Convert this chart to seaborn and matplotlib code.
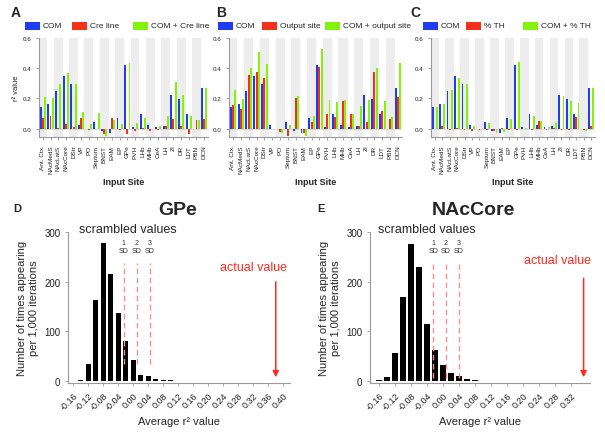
import numpy as np
import pandas as pd
import matplotlib
matplotlib.use('Agg')
import matplotlib.pyplot as plt
import seaborn as sns
from matplotlib.patches import Rectangle

# ---- data ----
sites = ['Ant. Ctx.', 'NAcMedS', 'NAcLatS', 'NAcCore', 'DStr', 'VP', 'PO', 'Septum',
         'BNST', 'EAM', 'EP', 'GPe', 'PVH', 'LHb', 'MHb', 'CeA', 'LH', 'ZI', 'DR',
         'LDT', 'PBN', 'DCN']

com = [0.145, 0.165, 0.247, 0.348, 0.298, 0.024, -0.005, 0.046, -0.015, -0.026, 0.072,
       0.422, 0.013, 0.096, 0.024, 0.013, 0.020, 0.223, 0.197, 0.094, -0.005, 0.267]
cre_line = [0.068, 0.081, 0.002, 0.033, 0.011, 0.068, -0.008, -0.005, -0.037, 0.074, -0.008,
            -0.037, -0.012, 0.002, -0.013, -0.010, 0.020, 0.066, 0.017, -0.033, 0.055, 0.063]
com_cre = [0.212, 0.205, 0.298, 0.370, 0.295, 0.112, 0.028, 0.107, -0.046, 0.057, 0.033,
           0.433, 0.039, 0.072, -0.004, 0.017, 0.081, 0.308, 0.225, 0.081, 0.059, 0.267]
output_site = [0.159, 0.133, 0.356, 0.375, 0.334, -0.004, -0.020, -0.046, 0.203, -0.028, 0.044,
               0.410, 0.094, 0.077, 0.186, 0.100, 0.015, 0.044, 0.373, 0.120, 0.065, 0.210]
com_output = [0.256, 0.199, 0.402, 0.505, 0.428, -0.003, -0.028, 0.022, 0.216, -0.046, 0.085,
              0.528, 0.192, 0.179, 0.192, 0.100, 0.150, 0.188, 0.400, 0.183, 0.079, 0.433]
pct_th = [-0.002, 0.020, -0.008, 0.002, -0.008, -0.012, -0.008, -0.010, -0.012, 0.004, -0.008,
          -0.008, -0.004, -0.008, 0.050, -0.010, 0.002, -0.008, -0.006, 0.078, -0.008, 0.018]
com_th = [0.144, 0.162, 0.253, 0.336, 0.297, 0.015, -0.008, 0.035, -0.026, -0.024, 0.061,
          0.441, 0.002, 0.083, 0.050, 0.009, 0.035, 0.214, 0.186, 0.172, -0.012, 0.268]

gpe_bins = [-0.14, -0.12, -0.10, -0.08, -0.06, -0.04, -0.02, 0.00, 0.02, 0.04, 0.06, 0.08, 0.10]
gpe_counts = [1, 33, 162, 277, 215, 137, 80, 41, 11, 9, 3, 2, 1]
gpe_sd = [-0.025, 0.009, 0.044]
gpe_actual = 0.38
gpe_ticks = [-0.16, -0.12, -0.08, -0.04, 0.00, 0.04, 0.08, 0.12, 0.16, 0.20, 0.24, 0.28, 0.32, 0.36, 0.40]

nac_bins = [-0.16, -0.14, -0.12, -0.10, -0.08, -0.06, -0.04, -0.02, 0.00, 0.02, 0.04, 0.06, 0.08]
nac_counts = [2, 7, 55, 168, 276, 230, 115, 61, 32, 15, 9, 4, 1]
nac_sd = [-0.024, 0.008, 0.040]
nac_actual = 0.352
nac_ticks = [-0.16, -0.12, -0.08, -0.04, 0.00, 0.04, 0.08, 0.12, 0.16, 0.20, 0.24, 0.28, 0.32]

BLUE, RED, GREEN = '#1f3cf2', '#f5301a', '#84f20a'
SPINE = '#9a9a9a'

sns.set_theme(style='ticks')
plt.rcParams['font.family'] = ['Liberation Sans', 'DejaVu Sans']

W, H = 605, 435
fig = plt.figure(figsize=(W / 100, H / 100), dpi=100)


def px(x0, y0, x1, y1):
    # pixel box -> figure rect
    return [x0 / W, 1 - y1 / H, (x1 - x0) / W, (y1 - y0) / H]


def style_axes(ax):
    sns.despine(ax=ax)
    for s in ['left', 'bottom']:
        ax.spines[s].set_color(SPINE)
        ax.spines[s].set_linewidth(0.8)
    ax.tick_params(colors='#222222', length=2, width=0.6)
    ax.tick_params(axis='both', color=SPINE)


def bar_panel(box, vals, names, letter, letter_xy, legend_items, ylabel):
    ax = fig.add_axes(px(*box))
    df = pd.DataFrame({
        'site': sites * 3,
        'model': [n for n in names for _ in sites],
        'r2': list(vals[0]) + list(vals[1]) + list(vals[2]),
    })
    for i in range(0, len(sites), 2):
        ax.axvspan(i - 0.58, i + 0.58, color='#ededed', zorder=0, lw=0)
    sns.barplot(data=df, x='site', y='r2', hue='model', palette=[BLUE, RED, GREEN],
                errorbar=None, width=0.84, gap=0.1, saturation=1, legend=False,
                edgecolor='none', linewidth=0, ax=ax, zorder=2)
    ax.axhline(0, color='#cfcfcf', lw=0.5, zorder=1)
    ax.set_xlim(-0.5, len(sites) - 0.5)
    ax.set_ylim(-0.055, 0.6)
    ax.set_yticks([0.0, 0.2, 0.4, 0.6])
    ax.set_yticklabels(['0.0', '0.2', '0.4', '0.6'], fontsize=4.5)
    ax.set_xticks(range(len(sites)))
    ax.set_xticklabels(sites, rotation=90, fontsize=4.6)
    style_axes(ax)
    ax.set_xlabel('Input Site', fontsize=6.5, fontweight='bold', labelpad=3)
    ax.set_ylabel(ylabel, fontsize=5.5, labelpad=2)
    fig.text(letter_xy[0] / W, 1 - letter_xy[1] / H, letter, fontsize=10,
             fontweight='bold', va='center')
    for x0, label, color in legend_items:
        fig.add_artist(Rectangle((x0 / W, 1 - 31 / H), 15 / W, 8 / H,
                                 transform=fig.transFigure, color=color, lw=0))
        fig.text((x0 + 18) / W, 1 - 27 / H, label, fontsize=6.0, va='center')
    return ax


axA = bar_panel((39, 39, 208, 138), (com, cre_line, com_cre),
                ['COM', 'Cre line', 'COM + Cre line'], 'A', (11, 13),
                [(25, 'COM', BLUE), (72, 'Cre line', RED), (133, 'COM + Cre line', GREEN)],
                'r² value')
axB = bar_panel((229, 39, 402, 138), (com, output_site, com_output),
                ['COM', 'Output site', 'COM + output site'], 'B', (216, 13),
                [(218, 'COM', BLUE), (262, 'Output site', RED), (325, 'COM + output site', GREEN)],
                '')
axC = bar_panel((431, 39, 595, 138), (com, pct_th, com_th),
                ['COM', '% TH', 'COM + % TH'], 'C', (410, 13),
                [(423, 'COM', BLUE), (466, '% TH', RED), (523, 'COM + % TH', GREEN)],
                '')


def hist_panel(box, bins, counts, sd, actual, ticks, xlim, title, title_x, letter,
               letter_x, scram_x, act_x, act_y, arrow_top, sd_bottom):
    ax = fig.add_axes(px(*box))
    hist_df = pd.DataFrame({'r2': bins, 'n': counts})
    sns.histplot(data=hist_df, x='r2', weights='n', binwidth=0.02,
                 binrange=(bins[0] - 0.01, bins[-1] + 0.01), color='black',
                 edgecolor='none', alpha=1, shrink=0.68, ax=ax)
    ax.set_xlim(*xlim)
    ax.set_ylim(-5, 300)
    ax.set_yticks([0, 100, 200, 300])
    ax.set_xticks(ticks)
    ax.set_xticklabels([f'{t:.2f}' for t in ticks], rotation=45, ha='right',
                       rotation_mode='anchor', fontsize=6.5)
    ax.tick_params(axis='y', labelsize=7)
    style_axes(ax)
    ax.set_ylabel('Number of times appearing\nper 1,000 iterations', fontsize=8, labelpad=4)
    ax.set_xlabel('Average r² value', fontsize=8, labelpad=3)
    ax.vlines(sd, sd_bottom, 237, colors='#ff8f8f', linestyles=(0, (4, 2.5)), lw=1)
    for k, x in enumerate(sd):
        ax.text(x, 271, f'{k + 1}\nSD', ha='center', va='center', fontsize=5,
                linespacing=1.15, color='#333333')
    ax.annotate('', xy=(actual, 1), xytext=(actual, arrow_top),
                arrowprops=dict(arrowstyle='-|>', color='#ff2a1f', lw=1.1,
                                mutation_scale=9))
    ax.text(act_x, act_y, 'actual value', color='#ff2a1f', ha='center', va='center',
            fontsize=9)
    ax.text(scram_x, 307, 'scrambled values', ha='center', va='center', fontsize=9,
            clip_on=False)
    fig.text(title_x / W, 1 - 211 / H, title, fontsize=14, fontweight='bold',
             ha='center', va='center')
    fig.text(letter_x / W, 1 - 209 / H, letter, fontsize=8, fontweight='bold', va='center')
    return ax


axD = hist_panel((68, 233, 290, 384), gpe_bins, gpe_counts, gpe_sd, gpe_actual,
                 gpe_ticks, (-0.174, 0.418), 'GPe', 178, 'D', 13,
                 -0.014, 0.32, 229, 205, 34)
axE = hist_panel((370, 233, 590, 384), nac_bins, nac_counts, nac_sd, nac_actual,
                 nac_ticks, (-0.182, 0.368), 'NAcCore', 473, 'E', 317,
                 -0.04, 0.288, 244, 212, 5)

fig.savefig('out.png', dpi=100)
